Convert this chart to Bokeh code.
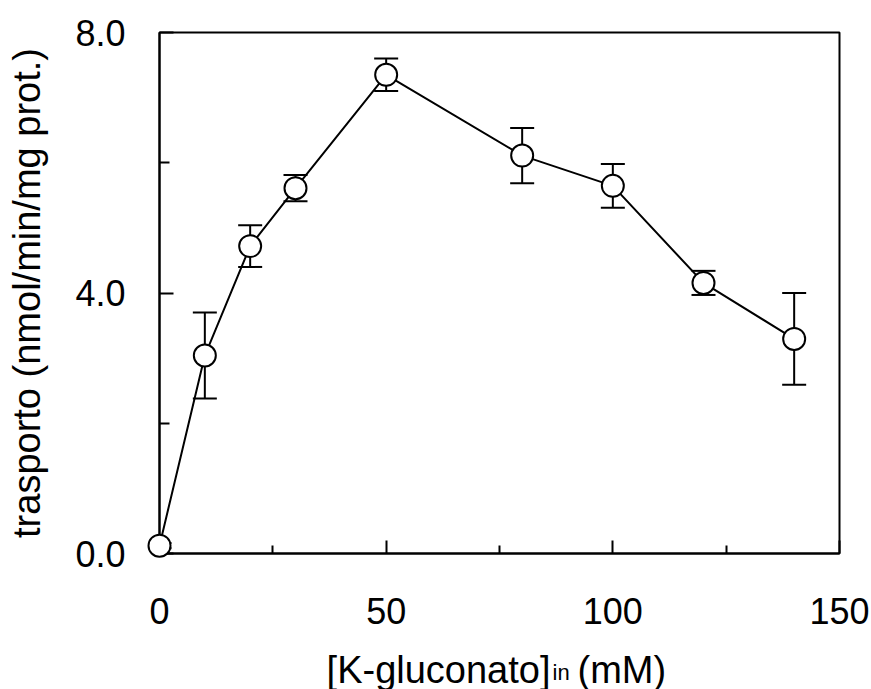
from bokeh.plotting import figure
from bokeh.models import ColumnDataSource, Whisker, TeeHead, FixedTicker, Range1d
from bokeh.core.properties import value
from bokeh.embed import file_html
from bokeh.resources import INLINE

# data
conc = [0, 10, 20, 30, 50, 80, 100, 120, 140]
transport = [0.12, 3.04, 4.72, 5.61, 7.35, 6.11, 5.645, 4.155, 3.295]
sem = [0.04, 0.66, 0.32, 0.20, 0.25, 0.425, 0.335, 0.185, 0.705]

x_major = [0, 50, 100, 150]
x_minor = [25, 75, 125]
y_major = [0, 4, 8]
y_minor = [2, 6]
y_tick_labels = {0: "0.0", 4: "4.0", 8: "8.0"}

x_title_main = "[K-gluconato]"
x_title_sub = "in"
x_title_unit = "(mM)"
y_title = "trasporto (nmol/min/mg prot.)"

FONT = "Liberation Sans"

# layout (pixels)
W, H = 871, 689
FRAME_L, FRAME_T, FRAME_W, FRAME_H = 159, 32, 680, 521
x0, x1 = x_major[0], x_major[-1]
y0, y1 = y_major[0], y_major[-1]

def canvas_to_data(cx, cy):
    return (x0 + (cx - FRAME_L) * (x1 - x0) / FRAME_W,
            y0 + (FRAME_T + FRAME_H - cy) * (y1 - y0) / FRAME_H)

upper = [v + e for v, e in zip(transport, sem)]
lower = [v - e for v, e in zip(transport, sem)]
src = ColumnDataSource(dict(x=conc, y=transport, upper=upper, lower=lower))

p = figure(width=W, height=H, output_backend="svg", toolbar_location=None,
           x_range=Range1d(x0, x1), y_range=Range1d(y0, y1),
           min_border_left=FRAME_L, min_border_right=W - FRAME_L - FRAME_W,
           min_border_top=FRAME_T, min_border_bottom=H - FRAME_T - FRAME_H)
p.background_fill_color = "white"
p.border_fill_color = "white"
p.xgrid.visible = False
p.ygrid.visible = False
p.outline_line_color = "black"
p.outline_line_width = 2
p.outline_line_alpha = 1.0

p.xaxis.ticker = FixedTicker(ticks=x_major, minor_ticks=x_minor)
p.yaxis.ticker = FixedTicker(ticks=y_major, minor_ticks=y_minor)
p.yaxis.major_label_overrides = y_tick_labels
for ax in (p.xaxis, p.yaxis):
    ax.axis_line_width = 2
    ax.axis_line_color = "black"
    ax.major_tick_line_width = 2
    ax.minor_tick_line_width = 2
    ax.major_tick_line_color = "black"
    ax.minor_tick_line_color = "black"
    ax.major_tick_out = 0
    ax.minor_tick_out = 0
    ax.major_label_text_font = FONT
    ax.major_label_text_font_size = "36px"
    ax.major_label_text_color = "black"
p.xaxis.major_tick_in = 13
p.xaxis.minor_tick_in = 8
p.yaxis.major_tick_in = 14
p.yaxis.minor_tick_in = 10
p.xaxis.major_label_standoff = 44
p.yaxis.major_label_standoff = 34

p.yaxis.axis_label = y_title
p.yaxis.axis_label_text_font = FONT
p.yaxis.axis_label_text_font_size = "38px"
p.yaxis.axis_label_text_font_style = "normal"
p.yaxis.axis_label_text_color = "black"
p.yaxis.axis_label_standoff = 24

# error bars
w = Whisker(source=src, base="x", upper="upper", lower="lower", dimension="height",
            line_color="black", line_width=2,
            upper_head=TeeHead(size=24, line_width=2, line_color="black"),
            lower_head=TeeHead(size=24, line_width=2, line_color="black"))
p.add_layout(w)

p.line("x", "y", source=src, line_color="black", line_width=2)
p.scatter("x", "y", source=src, marker="circle", size=22, fill_color="white",
          line_color="black", line_width=2, level="overlay")

# x-axis title with subscript (overlay level so it is drawn outside the frame)
for txt, cx, cy, size, align in [(x_title_main, 550, 669, "38px", "right"),
                                  (x_title_sub, 552, 671.5, "22px", "left"),
                                  (x_title_unit, 577, 669, "38px", "left")]:
    dx, dy = canvas_to_data(cx, cy)
    p.text(x=[dx], y=[dy], text=[txt], text_align=align, text_baseline="alphabetic",
           text_font=value(FONT), text_font_size=size, text_color="black", level="overlay")

open("out.html", "w").write(file_html(p, INLINE))
